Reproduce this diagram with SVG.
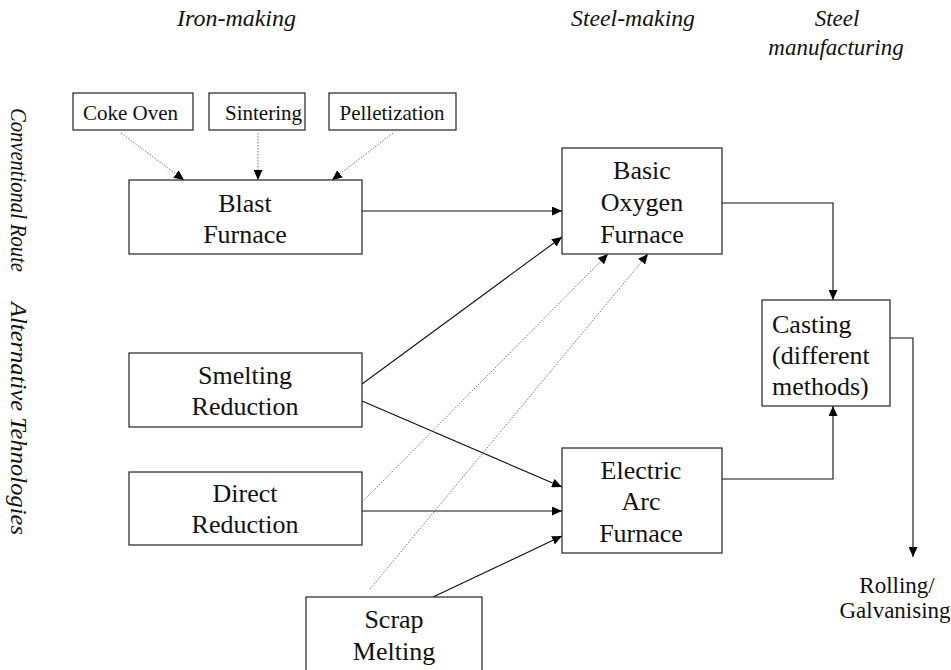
<svg xmlns="http://www.w3.org/2000/svg" width="951" height="670" viewBox="0 0 951 670">
<style>
.box{fill:#fff;stroke:#222;stroke-width:1.2}
.t{font-family:"Liberation Serif","Times New Roman",serif;font-size:26px;fill:#111;text-anchor:middle}
.tl{font-family:"Liberation Serif","Times New Roman",serif;font-size:26px;fill:#111;text-anchor:start}
.ts{font-family:"Liberation Serif","Times New Roman",serif;font-size:21px;fill:#111}
.h{font-family:"Liberation Serif","Times New Roman",serif;font-size:23px;font-style:italic;fill:#111}
.hc{font-family:"Liberation Serif","Times New Roman",serif;font-size:23px;font-style:italic;fill:#111;text-anchor:middle}
.ln{fill:none;stroke:#111;stroke-width:1.1}
.dt{fill:none;stroke:#666;stroke-width:0.9;stroke-dasharray:1.5 1.5}
</style>
<defs>
<marker id="ah" markerUnits="userSpaceOnUse" markerWidth="11" markerHeight="9" refX="10" refY="4.5" orient="auto">
<path d="M0,0 L10,4.5 L0,9 z" fill="#000"/>
</marker>
</defs>
<rect width="951" height="670" fill="#fff"/>

<g id="headers">
<text class="h" x="177" y="26" textLength="119" lengthAdjust="spacingAndGlyphs">Iron-making</text>
<text class="h" x="571" y="26" textLength="124" lengthAdjust="spacingAndGlyphs">Steel-making</text>
<text class="hc" x="837" y="26">Steel</text>
<text class="hc" x="836" y="55">manufacturing</text>
<text class="h" transform="translate(11,108) rotate(90)" textLength="164" lengthAdjust="spacingAndGlyphs">Conventional Route</text>
<text class="h" transform="translate(11,302) rotate(90)" textLength="233" lengthAdjust="spacingAndGlyphs">Alternative Tehnologies</text>
</g>

<g id="connectors">
<line class="dt" x1="121" y1="133" x2="184" y2="180" marker-end="url(#ah)"/>
<line class="dt" x1="258" y1="133" x2="258" y2="180" marker-end="url(#ah)"/>
<line class="dt" x1="393" y1="133" x2="332" y2="180" marker-end="url(#ah)"/>
<line class="ln" x1="362" y1="211" x2="562" y2="211" marker-end="url(#ah)"/>
<line class="ln" x1="362" y1="384" x2="562" y2="237" marker-end="url(#ah)"/>
<line class="ln" x1="362" y1="401" x2="562" y2="487" marker-end="url(#ah)"/>
<line class="ln" x1="362" y1="511" x2="562" y2="511" marker-end="url(#ah)"/>
<line class="dt" x1="362" y1="502" x2="608" y2="254" marker-end="url(#ah)"/>
<line class="dt" x1="370" y1="589" x2="648" y2="254" marker-end="url(#ah)"/>
<line class="ln" x1="433" y1="597" x2="562" y2="536" marker-end="url(#ah)"/>
<polyline class="ln" points="722,203 833,203 833,300" marker-end="url(#ah)"/>
<polyline class="ln" points="722,479 833,479 833,406" marker-end="url(#ah)"/>
<polyline class="ln" points="890,338 913,338 913,557" marker-end="url(#ah)"/>
</g>

<g id="coke-oven">
<rect class="box" x="73" y="93" width="120" height="37"/>
<text class="ts" x="83" y="120">Coke Oven</text>
</g>
<g id="sintering">
<rect class="box" x="209" y="93" width="96" height="37"/>
<text class="ts" x="225" y="120">Sintering</text>
</g>
<g id="pelletization">
<rect class="box" x="329" y="93" width="127" height="37"/>
<text class="ts" x="339.5" y="120">Pelletization</text>
</g>
<g id="blast-furnace">
<rect class="box" x="129" y="180" width="233" height="74"/>
<text class="t" x="245" y="211.5">Blast</text>
<text class="t" x="245" y="242.5">Furnace</text>
</g>
<g id="basic-oxygen-furnace">
<rect class="box" x="562" y="148" width="160" height="106"/>
<text class="t" x="642" y="179">Basic</text>
<text class="t" x="642" y="211">Oxygen</text>
<text class="t" x="642" y="243">Furnace</text>
</g>
<g id="casting">
<rect class="box" x="762" y="300" width="128" height="106"/>
<text class="tl" x="772" y="333">Casting</text>
<text class="tl" x="772" y="363.5">(different</text>
<text class="tl" x="772" y="395">methods)</text>
</g>
<g id="smelting-reduction">
<rect class="box" x="129" y="353" width="233" height="74"/>
<text class="t" x="245" y="383.5">Smelting</text>
<text class="t" x="245" y="415">Reduction</text>
</g>
<g id="direct-reduction">
<rect class="box" x="129" y="472" width="233" height="73"/>
<text class="t" x="245" y="501.5">Direct</text>
<text class="t" x="245" y="533">Reduction</text>
</g>
<g id="electric-arc-furnace">
<rect class="box" x="562" y="448" width="160" height="105"/>
<text class="t" x="641" y="478.5">Electric</text>
<text class="t" x="641" y="509.5">Arc</text>
<text class="t" x="641" y="541.5">Furnace</text>
</g>
<g id="scrap-melting">
<rect class="box" x="306" y="597" width="176" height="80"/>
<text class="t" x="394" y="628">Scrap</text>
<text class="t" x="394" y="659.5">Melting</text>
</g>
<g id="rolling-galvanising">
<text class="t" x="897" y="592.5" style="font-size:23px">Rolling/</text>
<text class="t" x="895" y="618" style="font-size:23px">Galvanising</text>
</g>
</svg>
